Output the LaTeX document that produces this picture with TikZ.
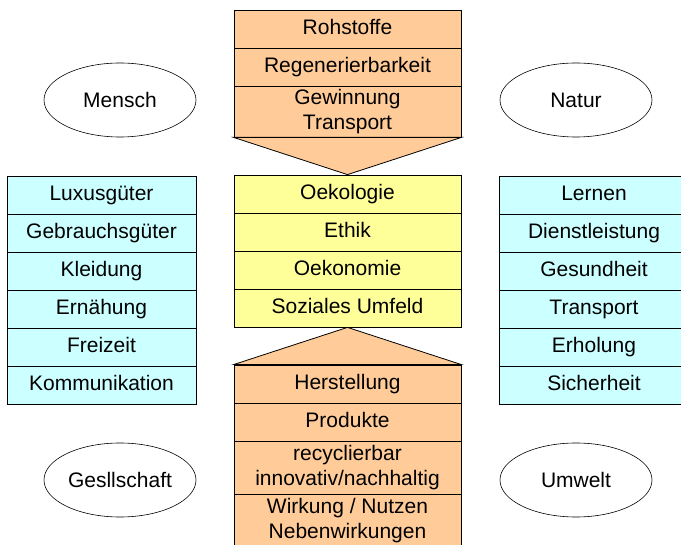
\documentclass[tikz,border=0pt]{standalone}
\usepackage{fontspec}
\setmainfont{Liberation Sans}
\usetikzlibrary{shapes.geometric}
\definecolor{rohfill}{RGB}{255,204,153}
\definecolor{mittefill}{RGB}{255,255,153}
\definecolor{seitefill}{RGB}{204,255,255}
\tikzset{
    cell/.style={draw, line width=0.8pt, inner sep=0pt, align=center,
        minimum height=38pt, font=\fontsize{21}{25}\selectfont},
    einzeilig/.style={text height=15pt, text depth=4pt},
    seite/.style={cell, einzeilig, fill=seitefill, minimum width=189pt},
    mitte/.style={cell, einzeilig, fill=mittefill, minimum width=227pt},
    roh/.style={cell, einzeilig, fill=rohfill, minimum width=227pt},
    roh2/.style={cell, fill=rohfill, minimum width=227pt, minimum height=53pt},
    pol/.style={draw, ellipse, line width=0.6pt, minimum width=152pt, minimum height=74pt,
        inner sep=0pt, font=\fontsize{21}{25}\selectfont},
}
\begin{document}
\begin{tikzpicture}[x=1pt,y=-1pt]
    \useasboundingbox (0,0) rectangle (681,545);
    \clip (0,0) rectangle (681,545);
    %% top block
    \node[roh] (rohstoffe) at (347.5,29) {Rohstoffe};
    \node[roh] (regen) at (347.5,67) {Regenerierbarkeit};
    \node[roh2, minimum height=51pt] (gewinnung) at (347.5,111.5) {Gewinnung\\Transport};
    %% middle block
    \foreach \txt [count=\i] in {Oekologie, Ethik, Oekonomie, Soziales Umfeld}
        \node[mitte] (m\i) at (347.5,156+38*\i) {\txt};
    \filldraw[fill=rohfill, line width=0.8pt] (gewinnung.south west) -- (m1.north) -- (gewinnung.south east) -- cycle;
    %% bottom block
    \node[roh] (herstellung) at (347.5,384) {Herstellung};
    \node[roh] (produkte) at (347.5,422) {Produkte};
    \node[roh2] (recycl) at (347.5,467.5) {recyclierbar\\innovativ/nachhaltig};
    \node[roh2] (wirkung) at (347.5,520.5) {Wirkung / Nutzen\\Nebenwirkungen};
    \filldraw[fill=rohfill, line width=0.8pt] (herstellung.north west) -- (m4.south) -- (herstellung.north east) -- cycle;
    %% side columns
    \foreach \txt [count=\i] in {Luxusgüter, Gebrauchsgüter, Kleidung, Ernähung, Freizeit, Kommunikation}
        \node[seite] (l\i) at (101.5,157+38*\i) {\txt};
    \foreach \txt [count=\i] in {Lernen, Dienstleistung, Gesundheit, Transport, Erholung, Sicherheit}
        \node[seite, minimum width=190pt] (r\i) at (594,157+38*\i) {\txt};
    %% corners
    \node[pol] (mensch) at (120,100) {Mensch};
    \node[pol] (natur) at (576,100) {Natur};
    \node[pol] (gesellschaft) at (120,480) {Gesllschaft};
    \node[pol] (umwelt) at (576,480) {Umwelt};
\end{tikzpicture}
\end{document}
